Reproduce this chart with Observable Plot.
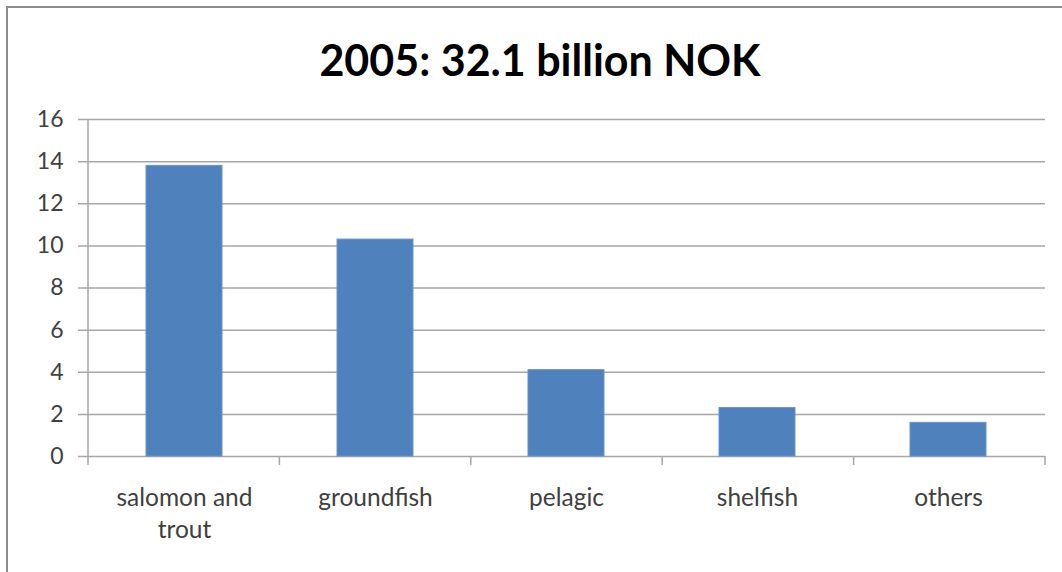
<!DOCTYPE html>
<html>
<head>
<meta charset="utf-8">
<script src="https://cdn.jsdelivr.net/npm/d3@7"></script>
<script src="https://cdn.jsdelivr.net/npm/@observablehq/plot@0.6"></script>
<style>
  html, body { margin: 0; padding: 0; background: #fff; }
  #wrap { position: relative; width: 1062px; height: 572px; overflow: hidden; background: #fff; }
  #frame { position: absolute; left: 6px; top: 6px; width: 1100px; height: 600px; border-left: 2px solid #8c8c8c; border-top: 2px solid #8c8c8c; box-sizing: border-box; }
  #title { position: absolute; left: 0; width: 1080px; top: 35px; text-align: center; font-family: Lato, "Open Sans", sans-serif; font-weight: bold; font-size: 43px; color: #000; line-height: 50px; }
  #chart { position: absolute; left: 0; top: 0; }
</style>
</head>
<body>
<div id="wrap">
  <div id="frame"></div>
  <div id="title">2005: 32.1 billion NOK</div>
  <div id="chart"></div>
</div>
<script>
const categories = ["salomon and trout", "groundfish", "pelagic", "shelfish", "others"];
const values = [13.8, 10.3, 4.1, 2.3, 1.6];
const yTicks = [0, 2, 4, 6, 8, 10, 12, 14, 16];
const xTickLabels = ["salomon and\ntrout", "groundfish", "pelagic", "shelfish", "others"];

const data = categories.map((c, i) => ({category: c, value: values[i]}));

const separators = (index, scales, values, dim) => {
  const g = d3.create("svg:g").attr("stroke", "#a6a6a6").attr("stroke-width", 1.5);
  const n = categories.length;
  const w = dim.width - dim.marginLeft - dim.marginRight;
  const y0 = scales.y(0);
  for (let k = 0; k <= n; k++) {
    const xk = dim.marginLeft + k * w / n;
    g.append("line").attr("x1", xk).attr("x2", xk).attr("y1", y0).attr("y2", y0 + 9);
  }
  g.append("line").attr("x1", dim.marginLeft).attr("x2", dim.marginLeft)
    .attr("y1", scales.y(yTicks[yTicks.length - 1])).attr("y2", y0);
  return g.node();
};

const chart = Plot.plot({
  width: 1062,
  height: 572,
  marginLeft: 88,
  marginRight: 17,
  marginTop: 119,
  marginBottom: 116,
  style: {fontFamily: "Lato, 'Open Sans', sans-serif", fontSize: "24px", color: "#404040", background: "transparent"},
  x: {domain: categories, paddingInner: 0.6, paddingOuter: 0.3, label: null},
  y: {domain: [0, 16], ticks: yTicks, label: null},
  marks: [
    Plot.ruleY(yTicks, {y: d => d, stroke: "#a6a6a6", strokeWidth: 1.5, insetLeft: -10}),
    Plot.barY(data, {x: "category", y: "value", fill: "#4f81bd", stroke: "#6b94c8", strokeWidth: 1}),
    separators,
    Plot.axisY({ticks: yTicks, tickSize: 0, tickPadding: 25, fontSize: 23, fill: "#404040", label: null}),
    Plot.axisX({tickSize: 0, tickPadding: 27, fontSize: 24.5, fill: "#404040", lineHeight: 1.3, label: null,
      tickFormat: d => xTickLabels[categories.indexOf(d)]})
  ]
});
document.getElementById("chart").appendChild(chart);
</script>
</body>
</html>
